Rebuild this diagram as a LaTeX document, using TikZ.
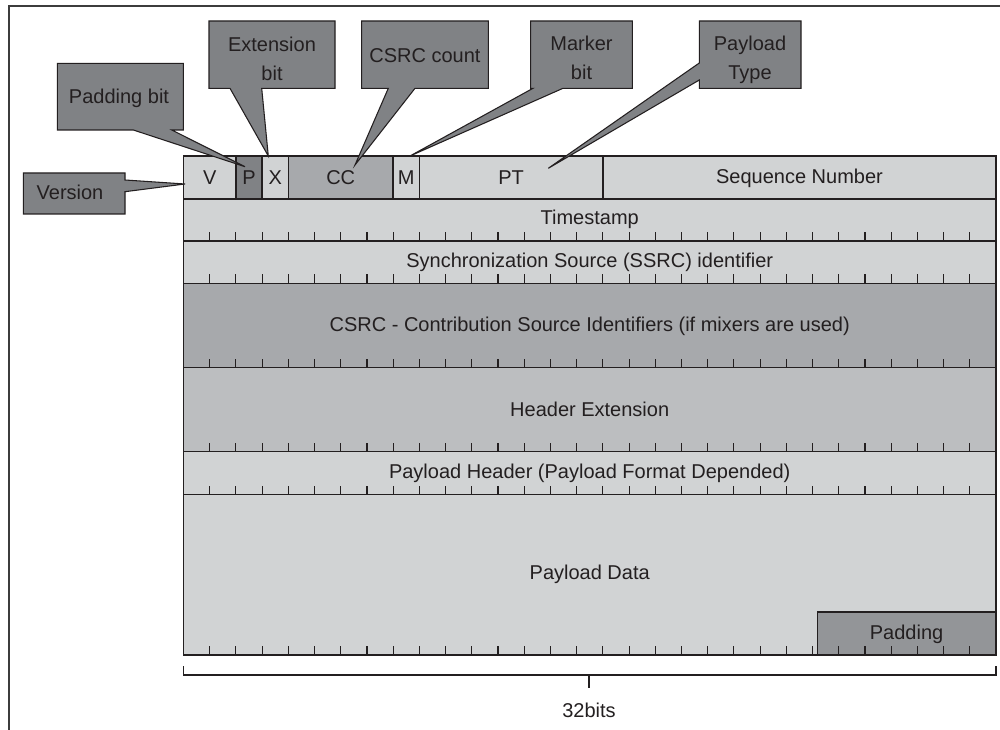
\documentclass[tikz,border=0pt]{standalone}
\usepackage{fontspec}
\setmainfont{Liberation Sans}
\definecolor{lg}{HTML}{D1D3D4}
\definecolor{mg}{HTML}{A7A9AC}
\definecolor{hg}{HTML}{BCBEC0}
\definecolor{pg}{HTML}{939598}
\definecolor{dg}{HTML}{808285}
\definecolor{ln}{HTML}{231F20}
\definecolor{fr}{HTML}{3C3C3C}
\begin{document}
\begin{tikzpicture}[x=0.75pt,y=-0.75pt,
  tbl/.style={draw=ln, line width=1.1pt},
  tk/.style={draw=ln, line width=0.8pt},
  lbl/.style={font=\fontsize{15}{18.75}\selectfont, inner sep=0pt, text=ln, align=center},
  call/.style={draw=ln, line width=0.8pt, fill=dg, line join=miter}]
\useasboundingbox (0,0) rectangle (1000,730);
% outer frame
\draw[fr, line width=1.5pt] (9,730) -- (9,5.7) -- (1000,5.7);
% header row cells
\filldraw[tbl, fill=lg] (183.5,156) rectangle (235.9,199);
\filldraw[tbl, fill=dg] (235.9,156) rectangle (262.1,199);
\filldraw[tbl, fill=lg] (262.1,156) rectangle (288.3,199);
\filldraw[tbl, fill=mg] (288.3,156) rectangle (393.2,199);
\filldraw[tbl, fill=lg] (393.2,156) rectangle (419.4,199);
\filldraw[tbl, fill=lg] (419.4,156) rectangle (602.9,199);
\filldraw[tbl, fill=lg] (602.9,156) rectangle (996,199);
% rows
\filldraw[tbl, fill=lg] (183.5,199) rectangle (996,241);
\filldraw[tbl, fill=lg] (183.5,241) rectangle (996,283.3);
\filldraw[tbl, fill=mg] (183.5,283.3) rectangle (996,367.7);
\filldraw[tbl, fill=hg] (183.5,367.7) rectangle (996,451.7);
\filldraw[tbl, fill=lg] (183.5,451.7) rectangle (996,494.7);
\filldraw[tbl, fill=lg] (183.5,494.7) rectangle (996,655);
\filldraw[tbl, fill=pg] (817.3,612) rectangle (996,655);
% ticks
\foreach \yb in {241,283.3,367.7,451.7,494.7,655}
  \foreach \k in {1,...,30}
    \draw[tk] ({183.5+26.21*\k},\yb) -- ++(0,-9);
% header texts
\node[lbl] (v) at (209.7,177.5) {V};
\node[lbl] (p) at (249,177.5) {P};
\node[lbl] (x) at (275.2,177.5) {X};
\node[lbl] (cc) at (340.7,177.5) {CC};
\node[lbl] (m) at (406.3,177.5) {M};
\node[lbl] (pt) at (511.1,177.5) {PT};
\node[lbl, anchor=base] (seq) at (799.5,183.3) {Sequence Number};
% row texts
\node[lbl, anchor=base] (ts) at (589.7,225) {Timestamp};
\node[lbl, anchor=base] (ssrc) at (589.7,267.3) {Synchronization Source (SSRC) identifier};
\node[lbl, anchor=base] (csrc) at (589.7,331.7) {CSRC - Contribution Source Identifiers (if mixers are used)};
\node[lbl, anchor=base] (hext) at (589.7,416.7) {Header Extension};
\node[lbl, anchor=base] (phdr) at (589.7,478.3) {Payload Header (Payload Format Depended)};
\node[lbl, anchor=base] (pdata) at (589.7,580) {Payload Data};
\node[lbl, anchor=base] (pad) at (906.6,640) {Padding};
% bracket
\draw[tbl] (183.5,666) -- (183.5,675) -- (996,675) -- (996,666);
\draw[tbl] (589,675) -- (589,688);
\node[lbl, anchor=base] (bits) at (589,717) {32bits};
% callouts
\filldraw[call] (23.3,173) -- (125,173) -- (125,180) -- (185,184) -- (125,191.7) -- (125,214) -- (23.3,214) -- cycle;
\node[lbl, anchor=base] (cver) at (70,200) {Version};
\filldraw[call] (57.3,63.3) -- (183.3,63.3) -- (183.3,130) -- (171.7,130) -- (245,166.7) -- (133.3,130) -- (57.3,130) -- cycle;
\node[lbl, anchor=base] (cpad) at (119,104) {Padding bit};
\filldraw[call] (209,21) -- (335,21) -- (335,88.3) -- (261.7,88.3) -- (268.3,156) -- (230,88.3) -- (209,88.3) -- cycle;
\node[lbl] (cext) at (272,59) {Extension\\[3pt]bit};
\filldraw[call] (361.7,21) -- (488.3,21) -- (488.3,88.3) -- (415,88.3) -- (355,165) -- (388.3,88.3) -- (361.7,88.3) -- cycle;
\node[lbl, anchor=base] (ccnt) at (425,63) {CSRC count};
\filldraw[call] (530.7,21) -- (632.3,21) -- (632.3,88.3) -- (563,88.3) -- (410,156) -- (533,88.3) -- (530.7,88.3) -- cycle;
\node[lbl] (cmark) at (581.5,58) {Marker\\[3pt]bit};
\filldraw[call] (699.3,21) -- (801,21) -- (801,88.3) -- (699.3,88.3) -- (699.3,80) -- (548.3,168.3) -- (699.3,63) -- cycle;
\node[lbl] (cptype) at (750,60) {Payload\\[3pt]Type};
\end{tikzpicture}
\end{document}
